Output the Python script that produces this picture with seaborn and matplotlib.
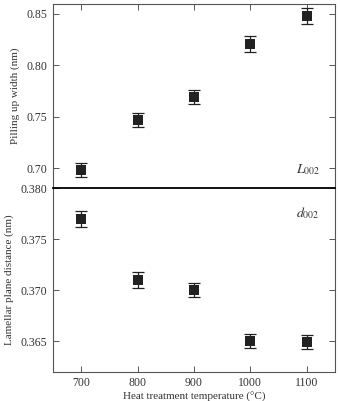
import numpy as np
import pandas as pd
import matplotlib
matplotlib.use("Agg")
import matplotlib.pyplot as plt
import seaborn as sns

# ── Data ──────────────────────────────────────────────────────────────────────
temps = [700, 800, 900, 1000, 1100]
width_nm = [0.698, 0.747, 0.769, 0.821, 0.848]
width_err = [0.007, 0.007, 0.007, 0.008, 0.008]
dist_nm = [0.3770, 0.3710, 0.3700, 0.3650, 0.3649]
dist_err = [0.0008, 0.0008, 0.0007, 0.0007, 0.0007]

df = pd.DataFrame({"temp": temps, "width": width_nm, "werr": width_err,
                   "dist": dist_nm, "derr": dist_err})

sns.set_style("ticks")
plt.rcParams["font.family"] = ["Liberation Serif", "DejaVu Serif"]
plt.rcParams["mathtext.fontset"] = "stix"

fig = plt.figure(figsize=(3.4, 4.01), dpi=100)
ax_top = fig.add_axes([0.156, 0.531, 0.829, 0.459])
ax_bot = fig.add_axes([0.156, 0.0725, 0.829, 0.4585], sharex=ax_top)

grey = "#555555"
mark = "#222222"


def panel(ax, col, err):
    ax.errorbar(df["temp"], df[col], yerr=df[err], fmt="none",
                ecolor=mark, elinewidth=0.9, capsize=4, capthick=0.9, zorder=2)
    sns.scatterplot(data=df, x="temp", y=col, ax=ax, marker="s", s=45,
                    color=mark, edgecolor=mark, linewidth=0, zorder=3)
    for sp in ax.spines.values():
        sp.set_color(grey)
        sp.set_linewidth(0.8)
    ax.tick_params(direction="in", length=4, width=0.7, color=grey,
                   labelsize=8.5, labelcolor="#333333", pad=4)


panel(ax_top, "width", "werr")
panel(ax_bot, "dist", "derr")

# top panel
ax_top.set_xlim(650, 1150)
ax_top.set_xticks(temps)
ax_top.set_ylim(0.6805, 0.8597)
ax_top.set_yticks([0.70, 0.75, 0.80, 0.85])
ax_top.set_yticklabels(["0.70", "0.75", "0.80", "0.85"])
ax_top.tick_params(axis="x", top=True, bottom=False, labelbottom=False)
ax_top.tick_params(axis="y", left=True, right=True)
ax_top.spines["bottom"].set_visible(False)
ax_top.set_xlabel("")
ax_top.set_ylabel("Pilling up width (nm)", fontsize=8, color="#333333", labelpad=5)
ax_top.text(0.905, 0.10, r"$L_{\mathrm{002}}$", transform=ax_top.transAxes,
            fontsize=10, ha="center", va="center", color="#333333")

# bottom panel
ax_bot.set_ylim(0.362, 0.380)
ax_bot.set_yticks([0.365, 0.370, 0.375, 0.380])
ax_bot.set_yticklabels(["0.365", "0.370", "0.375", "0.380"])
ax_bot.tick_params(axis="x", top=False, bottom=True)
ax_bot.tick_params(axis="y", left=True, right=True)
ax_bot.spines["top"].set_color("black")
ax_bot.spines["top"].set_linewidth(1.3)
ax_bot.set_xlabel("Heat treatment temperature (°C)", fontsize=8, color="#333333", labelpad=2)
ax_bot.set_ylabel("Lamellar plane distance (nm)", fontsize=8, color="#333333", labelpad=5)
ax_bot.text(0.905, 0.865, r"$d_{\mathrm{002}}$", transform=ax_bot.transAxes,
            fontsize=10, ha="center", va="center", color="#333333")

fig.savefig("out.png", dpi=100)
